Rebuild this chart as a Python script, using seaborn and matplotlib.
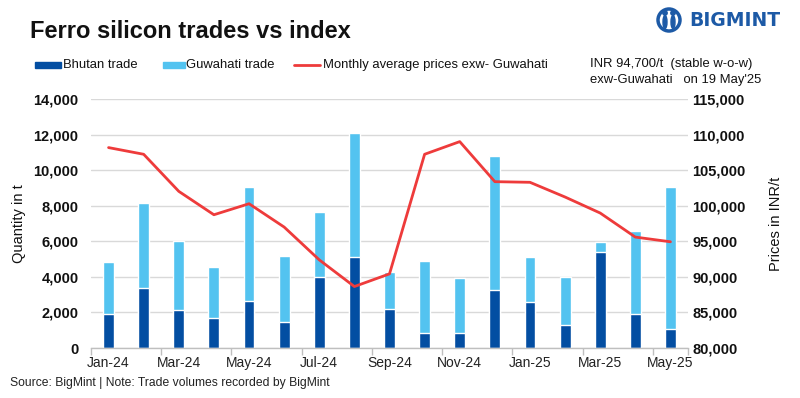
import numpy as np
import pandas as pd
import matplotlib
matplotlib.use("Agg")
import matplotlib.pyplot as plt
import seaborn as sns
from matplotlib.patches import Rectangle, Circle, Ellipse
from matplotlib.lines import Line2D
from matplotlib.ticker import FuncFormatter, MultipleLocator, FixedLocator

months = ["Jan-24", "Feb-24", "Mar-24", "Apr-24", "May-24", "Jun-24", "Jul-24", "Aug-24",
          "Sep-24", "Oct-24", "Nov-24", "Dec-24", "Jan-25", "Feb-25", "Mar-25", "Apr-25", "May-25"]
bhutan = [1900, 3380, 2140, 1690, 2650, 1470, 4000, 5130, 2200, 850, 850, 3270, 2590, 1300, 5410, 1920, 1070]
guwahati = [2950, 4790, 3890, 2870, 6420, 3710, 3660, 6980, 2080, 4050, 3090, 7550, 2540, 2700, 560, 4670, 8000]
price = [108170, 107230, 102020, 98730, 100280, 97000, 92390, 88640, 90420, 107230, 109010,
         103380, 103290, 101220, 98970, 95590, 94930]

DARK = "#034EA2"
LIGHT = "#53C3F0"
RED = "#EE3B3B"
LOGO = "#1d5aa6"

sns.set_theme(style="white")
plt.rcParams['font.family'] = ['Liberation Sans', 'DejaVu Sans']

df = pd.DataFrame({"month": months, "bhutan": bhutan, "guwahati": guwahati, "price": price})
df["total"] = df["bhutan"] + df["guwahati"]

W, H = 800, 398
fig = plt.figure(figsize=(W / 100, H / 100), dpi=100)
ax = fig.add_axes([91 / W, 1 - 348 / H, 597 / W, 249 / H])

sns.barplot(data=df, x="month", y="total", color=LIGHT, width=0.31, ax=ax, saturation=1)
sns.barplot(data=df, x="month", y="bhutan", color=DARK, width=0.31, ax=ax, saturation=1)

ax.set_ylim(0, 14000)
ax.set_xlim(-0.5, len(months) - 0.5)
ax.yaxis.set_major_locator(MultipleLocator(2000))
ax.yaxis.set_major_formatter(FuncFormatter(lambda v, p: f"{int(v):,}"))
ax.grid(axis="y", color="#d9d9d9", linewidth=1)
ax.set_axisbelow(True)
for s in ["top", "left", "right"]:
    ax.spines[s].set_visible(False)
ax.spines["bottom"].set_color("#bfbfbf")
ax.spines["bottom"].set_linewidth(1)

pos = np.arange(len(months))
ax.xaxis.set_major_locator(FixedLocator(pos[::2]))
ax.set_xticklabels(months[::2])
ax.xaxis.set_minor_locator(FixedLocator(list(pos[::2] - 0.5) + [len(months) - 0.5]))
ax.tick_params(axis="x", which="major", length=0, pad=6, labelsize=10, colors="#222222")
ax.tick_params(axis="x", which="minor", length=5, width=1, color="#bfbfbf", bottom=True)
ax.tick_params(axis="y", length=0, labelsize=10.5, colors="#111111", pad=9)
for t in ax.get_yticklabels():
    t.set_fontweight("bold")
ax.set_xlabel("")
ax.set_ylabel("Quantity in t", fontsize=10.5, color="#111111")
ax.yaxis.set_label_coords((26 - 91) / 597, 0.5)

ax2 = ax.twinx()
sns.lineplot(x=pos, y=df["price"], color=RED, linewidth=2, ax=ax2)
ax2.set_ylim(80000, 115000)
ax2.yaxis.set_major_locator(MultipleLocator(5000))
ax2.yaxis.set_major_formatter(FuncFormatter(lambda v, p: f"{int(v):,}"))
ax2.tick_params(axis="y", length=0, labelsize=10.5, colors="#111111", pad=3)
for t in ax2.get_yticklabels():
    t.set_fontweight("bold")
for s in ["top", "left", "right", "bottom"]:
    ax2.spines[s].set_visible(False)
ax2.set_ylabel("Prices in INR/t", fontsize=10.5, color="#111111")
ax2.yaxis.set_label_coords((769 - 91) / 597, 0.5)
ax2.grid(False)

def fx(px):
    return px / W

def fy(py):
    return 1 - py / H

# Title
fig.text(fx(30), fy(31), "Ferro silicon trades vs index", fontsize=17, fontweight="bold",
         color="#111111", va="center", ha="left")

# Legend (manual)
ly = 65
fig.patches.append(Rectangle((fx(35), fy(ly + 3)), fx(26), 6 / H, transform=fig.transFigure,
                             color=DARK))
fig.text(fx(63), fy(ly), "Bhutan trade", fontsize=9.4, color="#111111", va="center")
fig.patches.append(Rectangle((fx(163), fy(ly + 3)), fx(22), 6 / H, transform=fig.transFigure,
                             color=LIGHT))
fig.text(fx(186), fy(ly), "Guwahati trade", fontsize=9.4, color="#111111", va="center")
fig.lines.append(Line2D([fx(294), fx(320)], [fy(ly), fy(ly)], transform=fig.transFigure,
                        color=RED, linewidth=2))
fig.text(fx(323), fy(ly), "Monthly average prices exw- Guwahati", fontsize=9.4,
         color="#111111", va="center")

fig.text(fx(590), fy(64), "INR 94,700/t  (stable w-o-w)", fontsize=9.4, color="#111111", va="center")
fig.text(fx(590), fy(80), "exw-Guwahati   on 19 May'25", fontsize=9.4, color="#111111", va="center")

# Logo
fig.text(fx(780), fy(20), "BIGMINT", fontsize=13.5, fontweight="bold", color=LOGO,
         ha="right", va="center", family=["DejaVu Sans"])
fig.patches.append(Circle((669, H - 20), 11, transform=None, color=LOGO, fill=False, lw=2.5))
fig.patches.append(Ellipse((665, H - 22), 4, 13, transform=None, color=LOGO))
fig.patches.append(Ellipse((673, H - 22), 4, 13, transform=None, color=LOGO))
fig.patches.append(Circle((665, H - 13), 2.2, transform=None, color=LOGO))
fig.patches.append(Circle((673, H - 13), 2.2, transform=None, color=LOGO))

# Source
fig.text(fx(10), fy(383), "Source: BigMint | Note: Trade volumes recorded by BigMint", fontsize=8.7,
         color="#222222", va="center")

fig.savefig("out.png", dpi=100)
